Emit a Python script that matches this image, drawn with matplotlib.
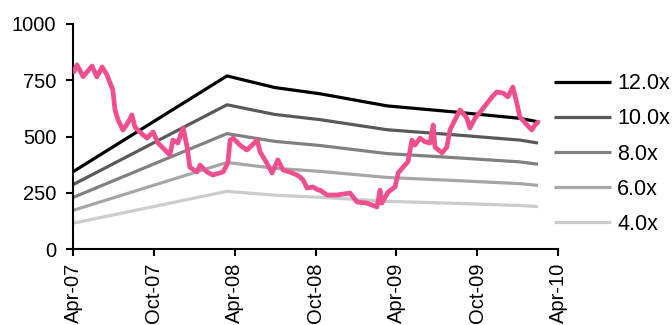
import matplotlib
matplotlib.use("Agg")
import matplotlib.pyplot as plt
import matplotlib.dates as mdates
import pandas as pd

plt.rcParams["font.family"] = ["Liberation Sans", "DejaVu Sans"]

# forward EPS knots used to build the PE band lines
eps_dates = ["2007-04-02", "2008-03-14", "2008-06-30", "2008-10-10",
             "2009-03-11", "2009-08-07", "2010-01-05", "2010-02-15"]
eps_values = [28.7, 64.1, 59.8, 57.5, 53.0, 50.8, 48.4, 47.1]

multiples = [12.0, 10.0, 8.0, 6.0, 4.0]
band_colors = ["#000000", "#595959", "#808080", "#a6a6a6", "#cccccc"]

# share price
price_dates = [
    "2007-04-03", "2007-04-10", "2007-04-24", "2007-05-14", "2007-05-25",
    "2007-06-06", "2007-06-17", "2007-06-24", "2007-06-30", "2007-07-05",
    "2007-07-12", "2007-07-23", "2007-08-03", "2007-08-12", "2007-08-19",
    "2007-08-30", "2007-09-15", "2007-09-29", "2007-10-10", "2007-10-26",
    "2007-11-06", "2007-11-13", "2007-11-24", "2007-12-06", "2007-12-15",
    "2007-12-21", "2008-01-06", "2008-01-13", "2008-01-29", "2008-02-11",
    "2008-03-05", "2008-03-16", "2008-03-21", "2008-03-28", "2008-04-12",
    "2008-04-28", "2008-05-10", "2008-05-21", "2008-05-28", "2008-06-12",
    "2008-06-24", "2008-07-07", "2008-07-19", "2008-08-03", "2008-08-19",
    "2008-08-26", "2008-09-02", "2008-09-11", "2008-09-24", "2008-10-06",
    "2008-10-10", "2008-10-26", "2008-11-18", "2008-12-17", "2009-01-02",
    "2009-01-24", "2009-02-16", "2009-02-23", "2009-02-27", "2009-03-13",
    "2009-03-29", "2009-04-05", "2009-04-16", "2009-04-27", "2009-05-06",
    "2009-05-13", "2009-05-24", "2009-06-05", "2009-06-16", "2009-06-23",
    "2009-06-27", "2009-07-13", "2009-07-24", "2009-07-31", "2009-08-11",
    "2009-08-23", "2009-08-29", "2009-09-07", "2009-09-14", "2009-09-26",
    "2009-10-11", "2009-10-25", "2009-11-03", "2009-11-14", "2009-11-28",
    "2009-12-09", "2009-12-20", "2009-12-29", "2010-01-05", "2010-01-21",
    "2010-02-01", "2010-02-08", "2010-02-15",
]
price_values = [
    788, 818, 766, 813, 765,
    809, 773, 737, 707, 618,
    573, 529, 560, 596, 542,
    520, 493, 520, 471, 440,
    418, 484, 471, 538, 453,
    364, 342, 373, 342, 329,
    342, 382, 484, 493, 462,
    440, 462, 484, 431, 382,
    338, 396, 351, 342, 329,
    320, 307, 271, 276, 262,
    262, 240, 240, 249, 209,
    204, 187, 262, 204, 253,
    276, 338, 364, 387, 484,
    462, 493, 476, 471, 551,
    453, 427, 453, 529, 573,
    618, 604, 582, 538, 582,
    618, 653, 676, 698, 693,
    676, 720, 649, 587, 551,
    529, 551, 564,
]

eps_x = pd.to_datetime(eps_dates)
price_x = pd.to_datetime(price_dates)

fig = plt.figure(figsize=(6.72, 3.25), dpi=100)
ax = fig.add_axes([0.1086, 0.2338, 0.7217, 0.6924])

for m, c in zip(multiples, band_colors):
    ax.plot(eps_x, [e * m for e in eps_values], color=c, linewidth=2.3,
            label=f"{m:.1f}x", solid_capstyle="butt")

ax.plot(price_x, price_values, color="#ef4f8f", linewidth=3.4,
        solid_joinstyle="round", solid_capstyle="round", zorder=5)

ax.set_ylim(0, 1000)
ax.set_yticks([0, 250, 500, 750, 1000])
ax.set_xlim(pd.Timestamp("2007-04-01"), pd.Timestamp("2010-04-01"))
ax.set_xticks(pd.to_datetime(["2007-04-01", "2007-10-01", "2008-04-01",
                              "2008-10-01", "2009-04-01", "2009-10-01",
                              "2010-04-01"]))
ax.xaxis.set_major_formatter(mdates.DateFormatter("%b-%y"))
plt.setp(ax.get_xticklabels(), rotation=90)

for side in ["top", "right"]:
    ax.spines[side].set_visible(False)
for side in ["left", "bottom"]:
    ax.spines[side].set_linewidth(1.5)
ax.tick_params(direction="out", length=5, width=1.5, labelsize=14.5)
ax.tick_params(axis="y", pad=7)
ax.tick_params(axis="x", pad=5)

ax.legend(loc="upper left", bbox_to_anchor=(0.824, 0.775),
          bbox_transform=fig.transFigure, frameon=False, fontsize=15.5,
          handlelength=2.65, handletextpad=0.3, labelspacing=0.66,
          borderpad=0, borderaxespad=0)

fig.savefig("out.png", dpi=100)
plt.close(fig)
